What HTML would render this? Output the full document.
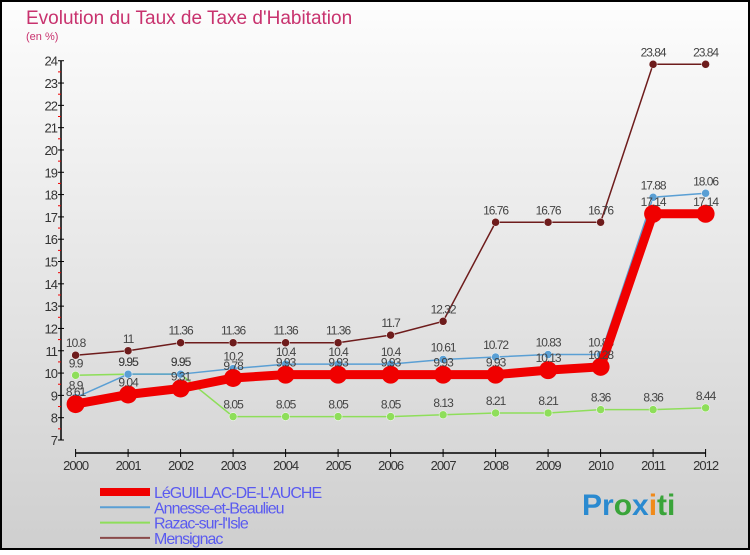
<!DOCTYPE html>
<html><head><meta charset="utf-8"><style>
body{margin:0;width:750px;height:550px;overflow:hidden;font-family:"Liberation Sans",sans-serif}
</style></head><body>
<svg id="c" width="750" height="550" xmlns="http://www.w3.org/2000/svg">
<defs><linearGradient id="bg" x1="0" y1="0" x2="0" y2="1"><stop offset="0" stop-color="#fdfdfd"/><stop offset="1" stop-color="#cfcfcf"/></linearGradient></defs>
<rect x="1" y="1" width="748" height="548" fill="url(#bg)" stroke="#000" stroke-width="2"/>
<text x="26" y="24" font-size="19" fill="#c8326e">Evolution du Taux de Taxe d'Habitation</text>
<text x="26" y="40" font-size="11" fill="#c8326e">(en %)</text>
<g id="axes"></g><g id="series"></g><g id="legend"></g>
<text x="582" y="515" font-size="30" font-weight="bold"><tspan fill="#2a8ad0">Pr</tspan><tspan fill="#3aa43a">o</tspan><tspan fill="#2a8ad0">x</tspan><tspan fill="#f08a1a">i</tspan><tspan fill="#3aa43a">ti</tspan></text>
</svg>
<script>
const years=[2000,2001,2002,2003,2004,2005,2006,2007,2008,2009,2010,2011,2012];
const yTicks=[7,8,9,10,11,12,13,14,15,16,17,18,19,20,21,22,23,24];
const leguillac=[8.61,9.04,9.31,9.78,9.93,9.93,9.93,9.93,9.93,10.13,10.28,17.14,17.14];
const annesse=[8.9,9.95,9.95,10.2,10.4,10.4,10.4,10.61,10.72,10.83,10.83,17.88,18.06];
const razac=[9.9,9.95,9.95,8.05,8.05,8.05,8.05,8.13,8.21,8.21,8.36,8.36,8.44];
const mensignac=[10.8,11,11.36,11.36,11.36,11.36,11.7,12.32,16.76,16.76,16.76,23.84,23.84];
const NS="http://www.w3.org/2000/svg";
const X=i=>75.6+i*52.5, Y=v=>440-(v-7)*22.31;
function mk(t,a,p){const e=document.createElementNS(NS,t);for(const k in a)e.setAttribute(k,a[k]);p.appendChild(e);return e;}
const ax=document.getElementById('axes');
const ya=mk('line',{x1:61,y1:Y(24),x2:61,y2:Y(7),stroke:'#000','stroke-width':1.5},ax);

const xa=mk('line',{x1:X(0),y1:453,x2:X(12),y2:453,stroke:'#000','stroke-width':1.5},ax);

yTicks.forEach(v=>{
 mk('line',{x1:58,y1:Y(v),x2:64,y2:Y(v),stroke:'#000'},ax);
 if(v<24)mk('line',{x1:58,y1:Y(v+0.5),x2:61,y2:Y(v+0.5),stroke:'#e00'},ax);
 const t=mk('text',{x:57,y:Y(v)+5,'text-anchor':'end','font-size':13,fill:'#333','letter-spacing':'-1'},ax);
 t.textContent=v;
 
});
years.forEach((yr,i)=>{
 mk('line',{x1:X(i),y1:449,x2:X(i),y2:457,stroke:'#000'},ax);
 const t=mk('text',{x:X(i),y:470,'text-anchor':'middle','font-size':13,fill:'#333','letter-spacing':'-1'},ax);
 t.textContent=yr;
 
});
const sg=document.getElementById('series');
const defs=[
 {d:mensignac,c:'#6e1c1c',w:1.5,r:4,n:'mensignac'},
 {d:razac,c:'#8ede5a',w:1.5,r:4,n:'razac-sur-lisle'},
 {d:annesse,c:'#5a9fd4',w:1.5,r:4,n:'annesse-et-beaulieu'},
 {d:leguillac,c:'#f00000',w:9,r:9,n:'leguillac-de-lauche'}];
defs.forEach(s=>{
 const g=mk('g',{},sg);
 
 const pl=mk('polyline',{points:s.d.map((v,i)=>X(i)+','+Y(v)).join(' '),fill:'none',stroke:s.c,'stroke-width':s.w},g);
 
 s.d.forEach((v,i)=>{
  const c=mk('circle',{cx:X(i),cy:Y(v),r:s.r,fill:s.c,stroke:s.r>5?'none':'#fff','stroke-width':0.5},g);
  
  const t=mk('text',{x:X(i),y:Y(v)-8,'text-anchor':'middle','font-size':12,fill:'#444','letter-spacing':'-1'},g);
  t.textContent=v;
  
 });
});
const lg=document.getElementById('legend');
const le=[['LéGUILLAC-DE-L\'AUCHE','#f00000',8],['Annesse-et-Beaulieu','#5a9fd4',2],['Razac-sur-l\'Isle','#8ede5a',2],['Mensignac','#8a4a4a',2]];
le.forEach((e,i)=>{
 const y=492+i*15.3;
 const g=mk('g',{},lg);
 
 mk('line',{x1:100,y1:y,x2:150,y2:y,stroke:e[1],'stroke-width':e[2]},g);
 const t=mk('text',{x:154,y:y+6,'font-size':16,fill:'#5a5af0','letter-spacing':'-1'},g);
 t.textContent=e[0];
});
</script>
</body></html>
